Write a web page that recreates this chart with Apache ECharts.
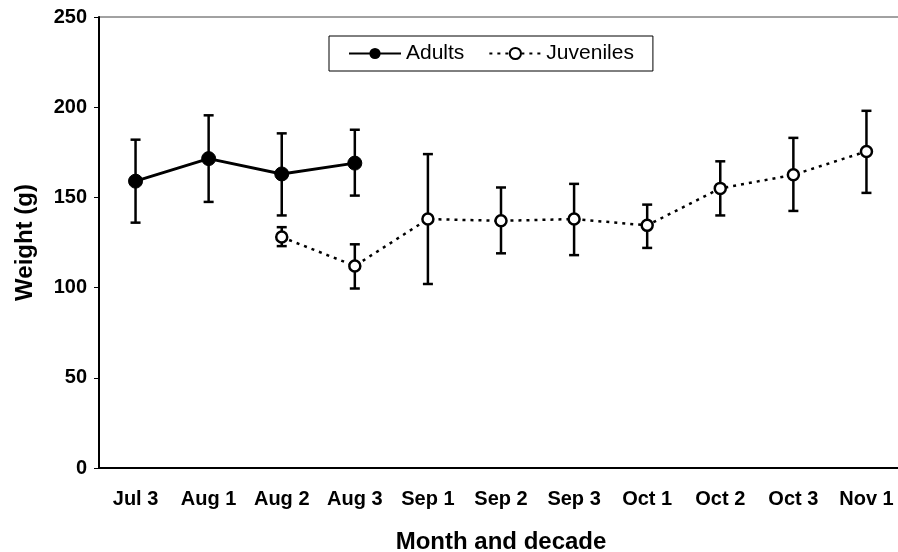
<!DOCTYPE html>
<html>
<head>
<meta charset="utf-8" />
<title>Weight by month and decade</title>
<script type="text/javascript" src="https://cdn.jsdelivr.net/npm/echarts@6/dist/echarts.min.js"></script>
<script type="text/javascript">
	var categories = ['Jul 3', 'Aug 1', 'Aug 2', 'Aug 3', 'Sep 1', 'Sep 2', 'Sep 3', 'Oct 1', 'Oct 2', 'Oct 3', 'Nov 1'];
	var yTicks = [0, 50, 100, 150, 200, 250];

	// adults, mean and error bar ends
	var adultMean = [159, 171.5, 163, 169, null, null, null, null, null, null, null];
	var adultLow  = [136, 147.5, 140, 151, null, null, null, null, null, null, null];
	var adultHigh = [182, 195.5, 185.5, 187.5, null, null, null, null, null, null, null];

	// juveniles
	var juvMean = [null, null, 128, 112, 138, 137, 138, 134.5, 155, 162.5, 175.5];
	var juvLow  = [null, null, 123, 99.5, 102, 119, 118, 122, 140, 142.5, 152.5];
	var juvHigh = [null, null, 133.5, 124, 174, 155.5, 157.5, 146, 170, 183, 198];

	var FONT = '"Liberation Sans", Arial, sans-serif';

	function barData(low, high) {
		var out = [];
		for (var i = 0; i < categories.length; i++) {
			if (low[i] != null) out.push([i, low[i], high[i]]);
		}
		return out;
	}

	function renderBar(params, api) {
		var x = api.value(0);
		var lo = api.coord([x, api.value(1)]);
		var hi = api.coord([x, api.value(2)]);
		var cap = 5;
		var st = { stroke: '#000', lineWidth: 2.5 };
		return {
			type: 'group',
			children: [
				{ type: 'line', shape: { x1: lo[0], y1: lo[1], x2: hi[0], y2: hi[1] }, style: st },
				{ type: 'line', shape: { x1: hi[0] - cap, y1: hi[1], x2: hi[0] + cap, y2: hi[1] }, style: st },
				{ type: 'line', shape: { x1: lo[0] - cap, y1: lo[1], x2: lo[0] + cap, y2: lo[1] }, style: st }
			]
		};
	}

	window.onload = function () {
		var myChart = echarts.init(document.getElementById('container'));
		var option = {
			animation: false,
			backgroundColor: '#fff',
			textStyle: { fontFamily: FONT, color: '#000' },
			grid: {
				left: 99, top: 17, right: -5, bottom: 84,
				outerBoundsMode: 'none',
				show: true, borderColor: '#444', borderWidth: 1
			},
			legend: {
				left: 329, top: 36,
				data: ['Adults', 'Juveniles'],
				borderColor: '#000', borderWidth: 1, borderRadius: 0,
				padding: [7, 19],
				itemWidth: 52, itemHeight: 14, itemGap: 24,
				textStyle: { fontFamily: FONT, fontSize: 21, color: '#000' }
			},
			xAxis: {
				type: 'category',
				data: categories,
				boundaryGap: true,
				name: 'Month and decade',
				nameLocation: 'middle',
				nameGap: 62,
				nameTextStyle: { fontFamily: FONT, fontSize: 24, fontWeight: 'bold', color: '#000' },
				axisLine: { lineStyle: { color: '#000', width: 2 } },
				axisTick: { length: 6, lineStyle: { color: '#000', width: 1 } },
				axisLabel: { fontFamily: FONT, fontSize: 20, fontWeight: 'bold', color: '#000', margin: 21 },
				splitLine: { show: false }
			},
			yAxis: {
				type: 'value',
				min: yTicks[0], max: yTicks[yTicks.length - 1], interval: 50,
				name: 'Weight (g)',
				nameLocation: 'middle',
				nameGap: 62,
				nameTextStyle: { fontFamily: FONT, fontSize: 24, fontWeight: 'bold', color: '#000' },
				axisLine: { show: true, lineStyle: { color: '#000', width: 2 } },
				axisTick: { show: true, length: 5, lineStyle: { color: '#000', width: 1 } },
				axisLabel: { fontFamily: FONT, fontSize: 20, fontWeight: 'bold', color: '#000', margin: 12 },
				splitLine: { show: false }
			},
			series: [
				{
					type: 'custom', name: 'adultBars', renderItem: renderBar,
					data: barData(adultLow, adultHigh), z: 1, silent: true
				},
				{
					type: 'custom', name: 'juvBars', renderItem: renderBar,
					data: barData(juvLow, juvHigh), z: 1, silent: true
				},
				{
					name: 'Adults', type: 'line', data: adultMean, z: 3,
					symbol: 'circle', symbolSize: 14,
					itemStyle: { color: '#000', borderColor: '#000' },
					lineStyle: { color: '#000', width: 3 }
				},
				{
					name: 'Juveniles', type: 'line', data: juvMean, z: 3,
					symbol: 'circle', symbolSize: 11,
					itemStyle: { color: '#fff', borderColor: '#000', borderWidth: 2.5 },
					lineStyle: { color: '#000', width: 2.5, type: [3, 5] }
				}
			]
		};
		myChart.setOption(option);
	};
</script>
</head>
<body style="margin: 0; background: #fff;">
	<div id="container" style="width: 898px; height: 552px;"></div>
</body>
</html>
